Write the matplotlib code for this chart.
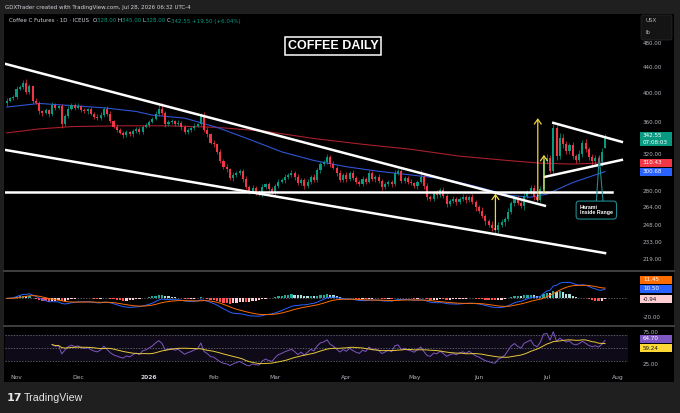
import numpy as np
import pandas as pd
import matplotlib
matplotlib.use("Agg")
import matplotlib.pyplot as plt
from matplotlib.patches import Rectangle, FancyBboxPatch
from matplotlib.lines import Line2D
from matplotlib.transforms import IdentityTransform
from matplotlib.ticker import NullLocator

# daily closes, Oct 29 2025 .. Jul 28 2026
closes = [389, 392, 394, 406, 409, 415, 401, 410, 388, 386,
          374, 372, 376, 370, 383, 379, 381, 357, 368, 378,
          383, 379, 381, 376, 374, 377, 371, 367, 365, 369,
          378, 370, 361, 354, 350, 346, 343, 347, 344, 348,
          351, 347, 354, 356, 360, 364, 371, 377, 372, 357,
          360, 361, 357, 359, 353, 347, 350, 352, 355, 357,
          369, 350, 344, 334, 332, 323, 313, 306, 303, 294,
          297, 299, 301, 293, 284, 280, 283, 279, 278, 284,
          287, 282, 279, 285, 290, 292, 295, 297, 299, 295,
          288, 292, 285, 290, 295, 292, 302, 309, 311, 317,
          309, 305, 299, 292, 297, 293, 299, 294, 290, 287,
          293, 290, 299, 293, 295, 291, 284, 287, 290, 287,
          299, 301, 291, 294, 290, 288, 285, 290, 295, 285,
          274, 272, 278, 276, 281, 275, 267, 270, 272, 269,
          272, 274, 271, 274, 269, 264, 261, 256, 251, 248,
          245, 243, 248, 250, 253, 260, 268, 273, 268, 265,
          275, 279, 283, 274, 271, 282, 312, 316, 301, 352,
          318, 340, 332, 324, 331, 318, 314, 321, 334, 326,
          317, 312, 316, 311, 323.05, 342.55]
wick_up = [3, 2, 3, 4, 3, 4, 5, 3, 2, 4, 3, 2, 3, 2, 4, 3, 2, 3, 3, 4,
           3, 2, 4, 2, 3, 2, 3, 2, 3, 4, 2, 3, 4, 2, 3, 2, 2, 3, 2, 3,
           2, 3, 2, 3, 2, 3, 3, 6, 9, 3, 2, 3, 2, 3, 2, 3, 2, 2, 3, 2,
           3, 4, 3, 2, 3, 2, 3, 2, 3, 2, 3, 2, 3, 2, 3, 2, 3, 2, 2, 3,
           2, 3, 2, 2, 3, 2, 3, 2, 3, 2, 3, 2, 2, 3, 2, 3, 3, 2, 3, 3,
           2, 3, 2, 3, 2, 3, 2, 3, 2, 2, 3, 2, 3, 2, 2, 3, 2, 3, 2, 2,
           3, 2, 3, 2, 2, 3, 2, 2, 7, 2, 3, 2, 2, 3, 2, 3, 2, 2, 3, 2,
           2, 3, 2, 2, 3, 2, 2, 3, 2, 2, 3, 2, 2, 3, 2, 3, 2, 3, 2, 3,
           3, 2, 3, 3, 2, 3, 4, 5, 3, 5, 4, 6, 5, 4, 3, 4, 3, 4, 3, 4,
           3, 4, 3, 3, 4, 2.45]
wick_dn = [3, 2, 2, 3, 2, 3, 3, 2, 3, 2, 3, 4, 2, 3, 2, 3, 2, 5, 2, 3,
           2, 3, 2, 3, 2, 3, 2, 3, 2, 2, 3, 2, 3, 2, 3, 2, 3, 2, 2, 3,
           2, 3, 2, 2, 3, 2, 2, 3, 3, 3, 2, 3, 2, 2, 3, 2, 2, 3, 2, 2,
           2, 3, 3, 2, 3, 2, 3, 2, 3, 2, 3, 2, 2, 3, 2, 3, 2, 3, 3, 4,
           2, 3, 2, 3, 2, 2, 3, 2, 2, 3, 2, 2, 3, 2, 3, 2, 2, 3, 2, 2,
           3, 2, 3, 2, 2, 3, 2, 2, 3, 2, 2, 3, 2, 2, 3, 2, 3, 2, 2, 3,
           2, 2, 3, 2, 3, 2, 2, 3, 2, 3, 3, 2, 2, 3, 2, 2, 3, 2, 2, 3,
           2, 2, 3, 2, 2, 3, 2, 2, 3, 2, 3, 2, 2, 2, 3, 2, 2, 3, 2, 2,
           3, 2, 2, 3, 2, 2, 3, 3, 2, 3, 4, 3, 4, 3, 4, 3, 4, 3, 4, 3,
           3, 4, 3, 3, 4, 0]
first_open = 385.0
last_open = 328.0

holidays = ["2025-11-27", "2025-12-25", "2026-01-01", "2026-01-19", "2026-02-16",
            "2026-04-03", "2026-05-25", "2026-06-19", "2026-07-03"]

# moving averages (bar index, price)
ma50_idx = [0, 10, 20, 30, 40, 45, 55, 65, 75, 85, 95, 105, 115, 125, 135, 145, 155, 162, 167, 175, 185]
ma50_val = [380, 385, 382, 379, 374, 369, 365, 353, 338, 323, 313, 306, 301, 297, 293, 285, 276, 274, 277, 289, 300.68]
ma200_idx = [0, 10, 20, 35, 50, 65, 80, 95, 110, 125, 140, 155, 165, 175, 185]
ma200_val = [346, 351, 354, 355, 355, 353, 348, 339, 332, 326, 318, 313, 310, 309, 310.43]

price_ticks = [219, 233, 248, 264, 280, 320, 360, 400, 440, 480]

# drawings (bar index, price)
channel_upper = [(-0.56, 444.6), (166.4, 265.6)]
channel_lower = [(-0.56, 325.3), (185.0, 223.7)]
support = [(-0.56, 279.0), (187.1, 279.0)]
flag_upper = [(169.0, 358.8), (190.2, 334.9)]
flag_lower = [(166.4, 295.0), (190.2, 313.7)]
arrows = [(151.1, 243.5, 277.5), (164.2, 271.0, 365.0), (166.1, 278.0, 319.5)]
harami_pointer = [(182.3, 269.0), (183.2, 317.0), (184.4, 269.0)]
harami_label = (177.2, 261.5)

macd_tags = [11.45, 10.50, -0.94]
rsi_tags = [64.70, 59.24]

GREEN = "#089981"
RED = "#f23645"
TXT = "#b2b5be"

plt.rcParams["font.family"] = ["DejaVu Sans"]

W, H = 680, 413
fig = plt.figure(figsize=(6.8, 4.13), dpi=100, facecolor="#1f1f1f")


def fx(px):
    return px / W


def fy(py):
    return 1 - py / H


fig.add_artist(Rectangle((fx(4), fy(382)), fx(674) - fx(4), (382 - 13.5) / H,
                         transform=fig.transFigure, fc="black", ec="none", zorder=0))

left, width = fx(5), fx(628) - fx(5)
ax = fig.add_axes([left, fy(270), width, (270 - 14) / H])
axm = fig.add_axes([left, fy(325.5), width, (325.5 - 271.5) / H], sharex=ax)
axr = fig.add_axes([left, fy(369), width, (369 - 327) / H], sharex=ax)
for a in (ax, axm, axr):
    a.set_facecolor("black")
    for s in a.spines.values():
        s.set_visible(False)
    a.yaxis.tick_right()
    a.tick_params(axis="both", length=0, labelsize=4.1, labelcolor=TXT)
    a.tick_params(axis="y", pad=10.8)
ax.tick_params(axis="x", labelbottom=False)
axm.tick_params(axis="x", labelbottom=False)

closes = np.array(closes, dtype=float)
n = len(closes)
idx = np.arange(n)
opens = np.r_[first_open, closes[:-1]]
opens[-1] = last_open
highs = np.maximum(opens, closes) + np.array(wick_up)
lows = np.minimum(opens, closes) - np.array(wick_dn)
colors = np.where(closes >= opens, GREEN, RED)

# ---- price pane
ax.set_yscale("log")
ax.set_xlim(-0.56, 192.1)
ax.set_ylim(210.4, 532.6)
ax.set_yticks(price_ticks, labels=[f"{t:.2f}" for t in price_ticks])
ax.yaxis.set_minor_locator(NullLocator())

ax.plot(ma200_idx, ma200_val, color="#a8202b", lw=0.8, zorder=2)
ax.plot(ma50_idx, ma50_val, color="#2f55d4", lw=0.8, zorder=2)
ax.vlines(idx, lows, highs, colors=colors, lw=0.5, zorder=3)
ax.bar(idx, np.maximum(np.abs(closes - opens), 0.6), bottom=np.minimum(opens, closes),
       width=0.64, color=colors, lw=0, zorder=4)

for line in (channel_upper, channel_lower, support, flag_upper, flag_lower):
    xs, ys = zip(*line)
    ax.plot(xs, ys, color="white", lw=1.8, zorder=5)

for i, p0, p1 in arrows:
    ax.annotate("", xy=(i, p1), xytext=(i, p0), zorder=6,
                arrowprops=dict(arrowstyle="->,head_length=0.35,head_width=0.25",
                                color="#f0d43a", lw=0.9, shrinkA=0, shrinkB=0))

TEAL = "#1f8a8f"
xs, ys = zip(*harami_pointer)
ax.plot(xs, ys, color=TEAL, lw=0.8, zorder=6)
ax.text(harami_label[0], harami_label[1], "Harami\nInside Range", fontsize=3.8,
        fontweight="bold", family="Liberation Sans", color="white", ha="left",
        va="center", linespacing=1.15, zorder=7,
        bbox=dict(boxstyle="round,pad=0.7,rounding_size=0.6", fc="black", ec=TEAL, lw=0.8))

# ---- MACD pane
s = pd.Series(closes)
macd = s.ewm(span=12, adjust=False).mean() - s.ewm(span=26, adjust=False).mean()
signal = macd.ewm(span=9, adjust=False).mean()
hist = (macd - signal).values
prev = np.r_[hist[0], hist[:-1]]
hcol = np.where(hist >= 0, np.where(hist >= prev, "#26a69a", "#b2dfdb"),
                np.where(hist > prev, "#ffcdd2", "#ff5252"))
axm.set_ylim(-29, 28.7)
axm.axhline(0, color="#787b86", lw=0.5, ls=(0, (2, 2)))
axm.bar(idx, hist, width=0.7, color=hcol, lw=0, zorder=2)
axm.plot(idx, macd, color="#2962ff", lw=0.7, zorder=3)
axm.plot(idx, signal, color="#ff6d00", lw=0.7, zorder=3)
axm.set_yticks([-20], labels=["-20.00"])

# ---- RSI pane
delta = s.diff()
gain = delta.clip(lower=0)
loss = -delta.clip(upper=0)
avg_gain = gain.ewm(alpha=1 / 14, adjust=False, min_periods=14).mean()
avg_loss = loss.ewm(alpha=1 / 14, adjust=False, min_periods=14).mean()
rsi = 100 - 100 / (1 + avg_gain / avg_loss)
rsi_ma = rsi.rolling(14, min_periods=1).mean()
axr.set_ylim(17.4, 82.6)
axr.axhspan(30, 70, color="#7e57c2", alpha=0.12, lw=0)
for lvl in (70, 50, 30):
    axr.axhline(lvl, color="#787b86", lw=0.5, ls=(0, (2, 2)))
axr.plot(idx, rsi, color="#7e57c2", lw=0.7)
axr.plot(idx, rsi_ma, color="#e8c93a", lw=0.7)
axr.set_yticks([25, 75], labels=["25.00", "75.00"])

# time axis
days = pd.bdate_range("2025-10-29", "2026-08-14")
days = days[~days.isin(pd.to_datetime(holidays))]
month_pos, month_lab = [], []
for k in range(1, len(days)):
    if days[k].month != days[k - 1].month and k < 192:
        month_pos.append(k)
        month_lab.append(str(days[k].year) if days[k].month == 1 else days[k].strftime("%b"))
axr.set_xticks(month_pos, labels=month_lab)
axr.tick_params(axis="x", pad=4.5, labelsize=4.3)
for t in axr.get_xticklabels():
    if t.get_text().isdigit():
        t.set_fontweight("bold")
        t.set_color("#d1d4dc")

# pane separators
for yy in (270.8, 326.2):
    fig.add_artist(Line2D([fx(4), fx(674)], [fy(yy), fy(yy)], color="#4a4a4a", lw=1.2))

# right scale tags
ID = IdentityTransform()


def tag(axis, value, label, fc, tc="white", dy=0.0, h=8.0):
    yd = axis.transData.transform((0, value))[1] + dy
    fig.add_artist(Rectangle((640, yd - h / 2), 32, h, transform=ID, fc=fc, ec="none"))
    fig.text(643, yd, label, transform=ID, color=tc, fontsize=4.1, va="center", ha="left")
    return yd


yl = ax.transData.transform((0, closes[-1]))[1]
fig.add_artist(Rectangle((640, yl - 10.5), 32, 14, transform=ID, fc=GREEN, ec="none"))
fig.text(643, yl, f"{closes[-1]:.2f}", transform=ID, color="white", fontsize=4.1, va="center")
fig.text(643, yl - 7, "07:08:03", transform=ID, color="white", fontsize=4.1, va="center")
tag(ax, ma200_val[-1], f"{ma200_val[-1]:.2f}", RED)
tag(ax, ma50_val[-1], f"{ma50_val[-1]:.2f}", "#2962ff")
tag(axm, macd_tags[0], f"{macd_tags[0]:.2f}", "#ff6d00", dy=8)
tag(axm, macd_tags[1], f"{macd_tags[1]:.2f}", "#2962ff")
tag(axm, macd_tags[2], f"{macd_tags[2]:.2f}", "#ffcdd2", tc="#131722")
tag(axr, rsi_tags[0], f"{rsi_tags[0]:.2f}", "#7e57c2")
tag(axr, rsi_tags[1], f"{rsi_tags[1]:.2f}", "#fdd835", tc="#131722", dy=-6)

# currency box
fig.add_artist(FancyBboxPatch((641, H - 40), 31, 25, boxstyle="round,pad=0,rounding_size=2",
                              transform=ID, fc="#141414", ec="#2b2b2b", lw=0.5))
fig.text(645, H - 21, "USX", transform=ID, color=TXT, fontsize=4, va="center")
fig.text(645, H - 33, "lb", transform=ID, color=TXT, fontsize=4, va="center")

# headers
fig.text(fx(5), fy(7), "GDXTrader created with TradingView.com, Jul 28, 2026 06:32 UTC-4",
         color="#d1d4dc", fontsize=4.0, va="center")
chg = closes[-1] - closes[-2]
parts = [("Coffee C Futures · 1D · ICEUS  ", "#d1d4dc"), ("O", "#d1d4dc"),
         (f"{opens[-1]:.2f} ", GREEN), ("H", "#d1d4dc"), (f"{highs[-1]:.2f} ", GREEN),
         ("L", "#d1d4dc"), (f"{lows[-1]:.2f} ", GREEN), ("C", "#d1d4dc"),
         (f"{closes[-1]:.2f} {chg:+.2f} ({chg / closes[-2] * 100:+.2f}%)", GREEN)]
renderer = fig.canvas.get_renderer()
xpos = 9
for txt, col in parts:
    t = fig.text(xpos, H - 21, txt, transform=ID, color=col, fontsize=4.0, va="center")
    xpos += t.get_window_extent(renderer).width

fig.text(fx(333), fy(46), "COFFEE DAILY", ha="center", va="center", fontsize=9,
         fontweight="bold", family="Liberation Sans", color="white",
         bbox=dict(boxstyle="square,pad=0.25", fc="black", ec="white", lw=1.1))

fig.text(fx(7), fy(398), "17", fontsize=8, fontweight="bold", color="#e6e6e6", va="center")
fig.text(fx(24), fy(398), "TradingView", fontsize=7.7, family="Liberation Sans",
         color="#e6e6e6", va="center")

fig.savefig("out.png", dpi=100, facecolor=fig.get_facecolor())
